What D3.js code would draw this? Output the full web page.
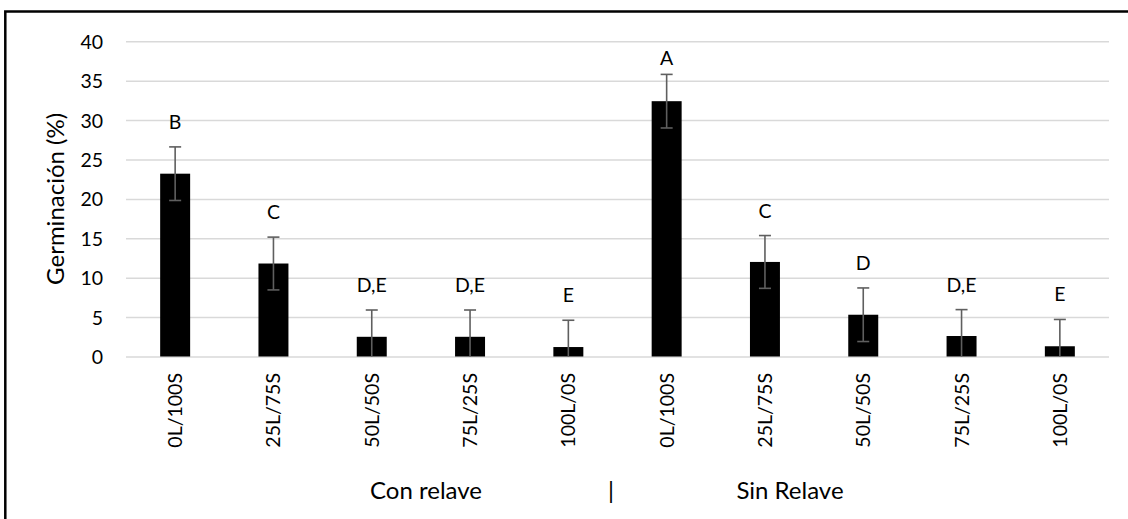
<!DOCTYPE html>
<html>
<head>
<meta charset="utf-8">
<script src="https://cdn.jsdelivr.net/npm/d3@7/dist/d3.min.js"></script>
<style>
  html, body { margin: 0; padding: 0; background: #fff; }
  svg { display: block; }
  text { font-family: Lato, "Open Sans", sans-serif; fill: #000; }
</style>
</head>
<body>
<svg id="chart" width="1128" height="519"></svg>
<script>
// Germination (%) by substrate mix, with and without tailings
const categories = ["0L/100S", "25L/75S", "50L/50S", "75L/25S", "100L/0S",
                    "0L/100S", "25L/75S", "50L/50S", "75L/25S", "100L/0S"];
const germination = [23.2, 11.8, 2.5, 2.5, 1.2, 32.4, 12.0, 5.3, 2.6, 1.3];
const errors      = [3.4, 3.35, 3.4, 3.4, 3.4, 3.4, 3.35, 3.4, 3.35, 3.4];
const letters     = ["B", "C", "D,E", "D,E", "E", "A", "C", "D", "D,E", "E"];
const yTicks      = [0, 5, 10, 15, 20, 25, 30, 35, 40];
const groupNames  = ["Con relave", "|", "Sin Relave"];

const svg = d3.select("#chart");
const W = 1128, H = 519;
const plot = { left: 126, right: 1109, top: 41.3, bottom: 356.5 };
const tickFont = 19.5, titleFont = 24;

// chart frame (top and left edges)
svg.append("path")
  .attr("d", `M5.3,${H} V11.5 H${W}`)
  .attr("fill", "none")
  .attr("stroke", "#000")
  .attr("stroke-width", 2.5);

const x = d3.scaleBand()
  .domain(d3.range(categories.length))
  .range([plot.left, plot.right])
  .paddingInner(0.695)
  .paddingOuter(0.3475);

const y = d3.scaleLinear()
  .domain([0, 40])
  .range([plot.bottom, plot.top]);

// horizontal gridlines + tick labels
const yAxis = d3.axisLeft(y)
  .tickValues(yTicks)
  .tickSize(-(plot.right - plot.left))
  .tickPadding(23);

const gy = svg.append("g")
  .attr("transform", `translate(${plot.left},0)`)
  .call(yAxis);
gy.select(".domain").remove();
gy.selectAll(".tick line")
  .attr("stroke", "#d9d9d9")
  .attr("stroke-width", 1.5);
gy.selectAll(".tick text")
  .attr("font-size", tickFont)
  .attr("font-family", "Lato, 'Open Sans', sans-serif")
  .attr("fill", "#000")
  .attr("dy", "0.36em");

// bars
svg.append("g").selectAll("rect")
  .data(germination)
  .join("rect")
  .attr("x", (d, i) => x(i))
  .attr("y", d => y(d))
  .attr("width", x.bandwidth())
  .attr("height", d => y(0) - y(d))
  .attr("fill", "#000");

// error bars (lower end clipped at the axis)
const eb = svg.append("g")
  .attr("stroke", "#5f5f5f")
  .attr("stroke-width", 1.6)
  .attr("fill", "none");
germination.forEach((v, i) => {
  const cx = x(i) + x.bandwidth() / 2;
  const hi = y(v + errors[i]);
  const lo = y(Math.max(0, v - errors[i]));
  eb.append("line").attr("x1", cx).attr("x2", cx).attr("y1", hi).attr("y2", lo);
  eb.append("line").attr("x1", cx - 6).attr("x2", cx + 6).attr("y1", hi).attr("y2", hi);
  if (v - errors[i] > 0) {
    eb.append("line").attr("x1", cx - 6).attr("x2", cx + 6).attr("y1", lo).attr("y2", lo);
  }
});

// significance letters above the error bars
svg.append("g").selectAll("text")
  .data(letters)
  .join("text")
  .attr("x", (d, i) => x(i) + x.bandwidth() / 2)
  .attr("y", (d, i) => Math.max(y(germination[i] + errors[i]) - 18, y(40) + 24))
  .attr("text-anchor", "middle")
  .attr("font-size", tickFont)
  .text(d => d);

// rotated category labels
svg.append("g").selectAll("text")
  .data(categories)
  .join("text")
  .attr("transform", (d, i) => `translate(${x(i) + x.bandwidth() / 2 + 7},373) rotate(-90)`)
  .attr("text-anchor", "end")
  .attr("font-size", tickFont)
  .text(d => d);

// y-axis title
svg.append("text")
  .attr("transform", `translate(64,${(plot.top + plot.bottom) / 2}) rotate(-90)`)
  .attr("text-anchor", "middle")
  .attr("font-size", titleFont)
  .text("Germinación (%)");

// group titles under the categories
const groupX = [426, 611, 790];
svg.append("g").selectAll("text")
  .data(groupNames)
  .join("text")
  .attr("x", (d, i) => groupX[i])
  .attr("y", 499)
  .attr("text-anchor", "middle")
  .attr("font-size", titleFont)
  .text(d => d);
</script>
</body>
</html>
